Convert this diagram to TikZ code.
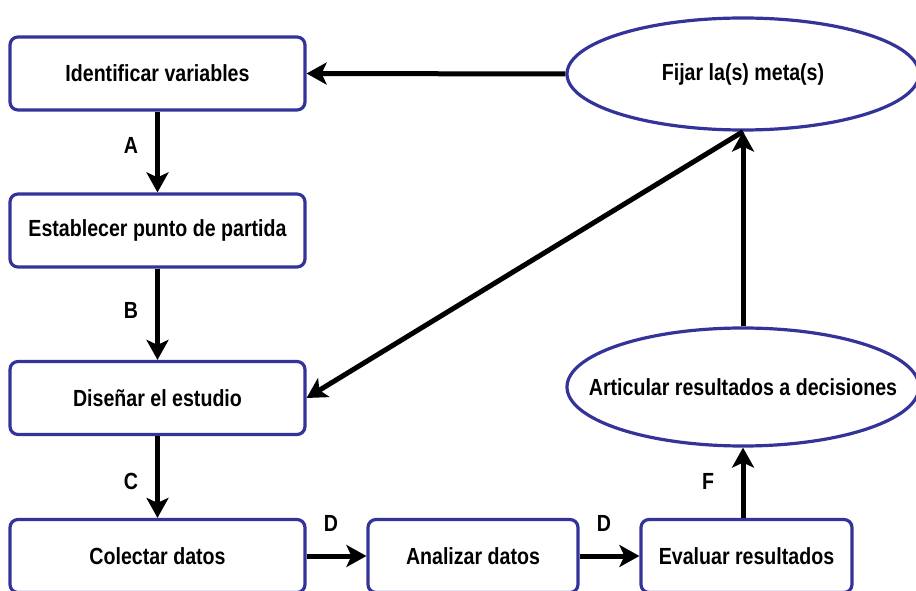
\documentclass[tikz,border=0pt]{standalone}
\usepackage{fontspec}
\setmainfont{Liberation Sans}[FakeStretch=0.84]
\usetikzlibrary{shapes.geometric,arrows.meta}
\definecolor{bord}{HTML}{333399}
\begin{document}
\begin{tikzpicture}[x=0.75pt, y=-0.75pt,
  every node/.style={font=\bfseries\fontsize{17.5}{20}\selectfont, inner sep=0pt},
  box/.style={draw=bord, line width=2.4pt, rounded corners=6pt, fill=white,
    minimum width=221.25pt, minimum height=54.75pt},
  ell/.style={ellipse, draw=bord, line width=2.4pt, fill=white, inner xsep=-60pt},
  arr/.style={line width=3.75pt, -{Stealth[length=15pt,width=16.5pt,inset=3.75pt]}}]
\useasboundingbox (0,0) rectangle (916,591);
\node[box] (b1) at (157.5,73.5) {Identificar variables};
\node[box] (b2) at (157.5,230.5) {Establecer punto de partida};
\node[box] (b3) at (157.5,398) {Diseñar el estudio};
\node[box] (b4) at (157.5,556) {Colectar datos};
\node[box, minimum width=157.5pt] (b5) at (473,556) {Analizar datos};
\node[box, minimum width=158.25pt] (b6) at (746.5,556) {Evaluar resultados};
\node[ell, minimum width=264pt, minimum height=84pt] (e1) at (743,74) {Fijar la(s) meta(s)};
\node[ell, minimum width=264pt, minimum height=88.5pt] (e2) at (743,387) {Articular resultados a decisiones};
\draw[arr] (e1.west) -- (b1.east);
\draw[arr] (b1) -- (b2);
\draw[arr] (b2) -- (b3);
\draw[arr] (b3) -- (b4);
\draw[arr] (b4) -- (b5);
\draw[arr] (b5) -- (b6);
\draw[arr] (b6.north -| e2.south) -- (e2.south);
\draw[arr] (e2) -- (e1);
\draw[arr] (e1.south) -- (b3.east);
\node (lA) at (131,145) {A};
\node (lB) at (131,310) {B};
\node (lC) at (131,481) {C};
\node (lD1) at (331,523) {D};
\node (lD2) at (604,523) {D};
\node (lF) at (708,481) {F};
\end{tikzpicture}
\end{document}
